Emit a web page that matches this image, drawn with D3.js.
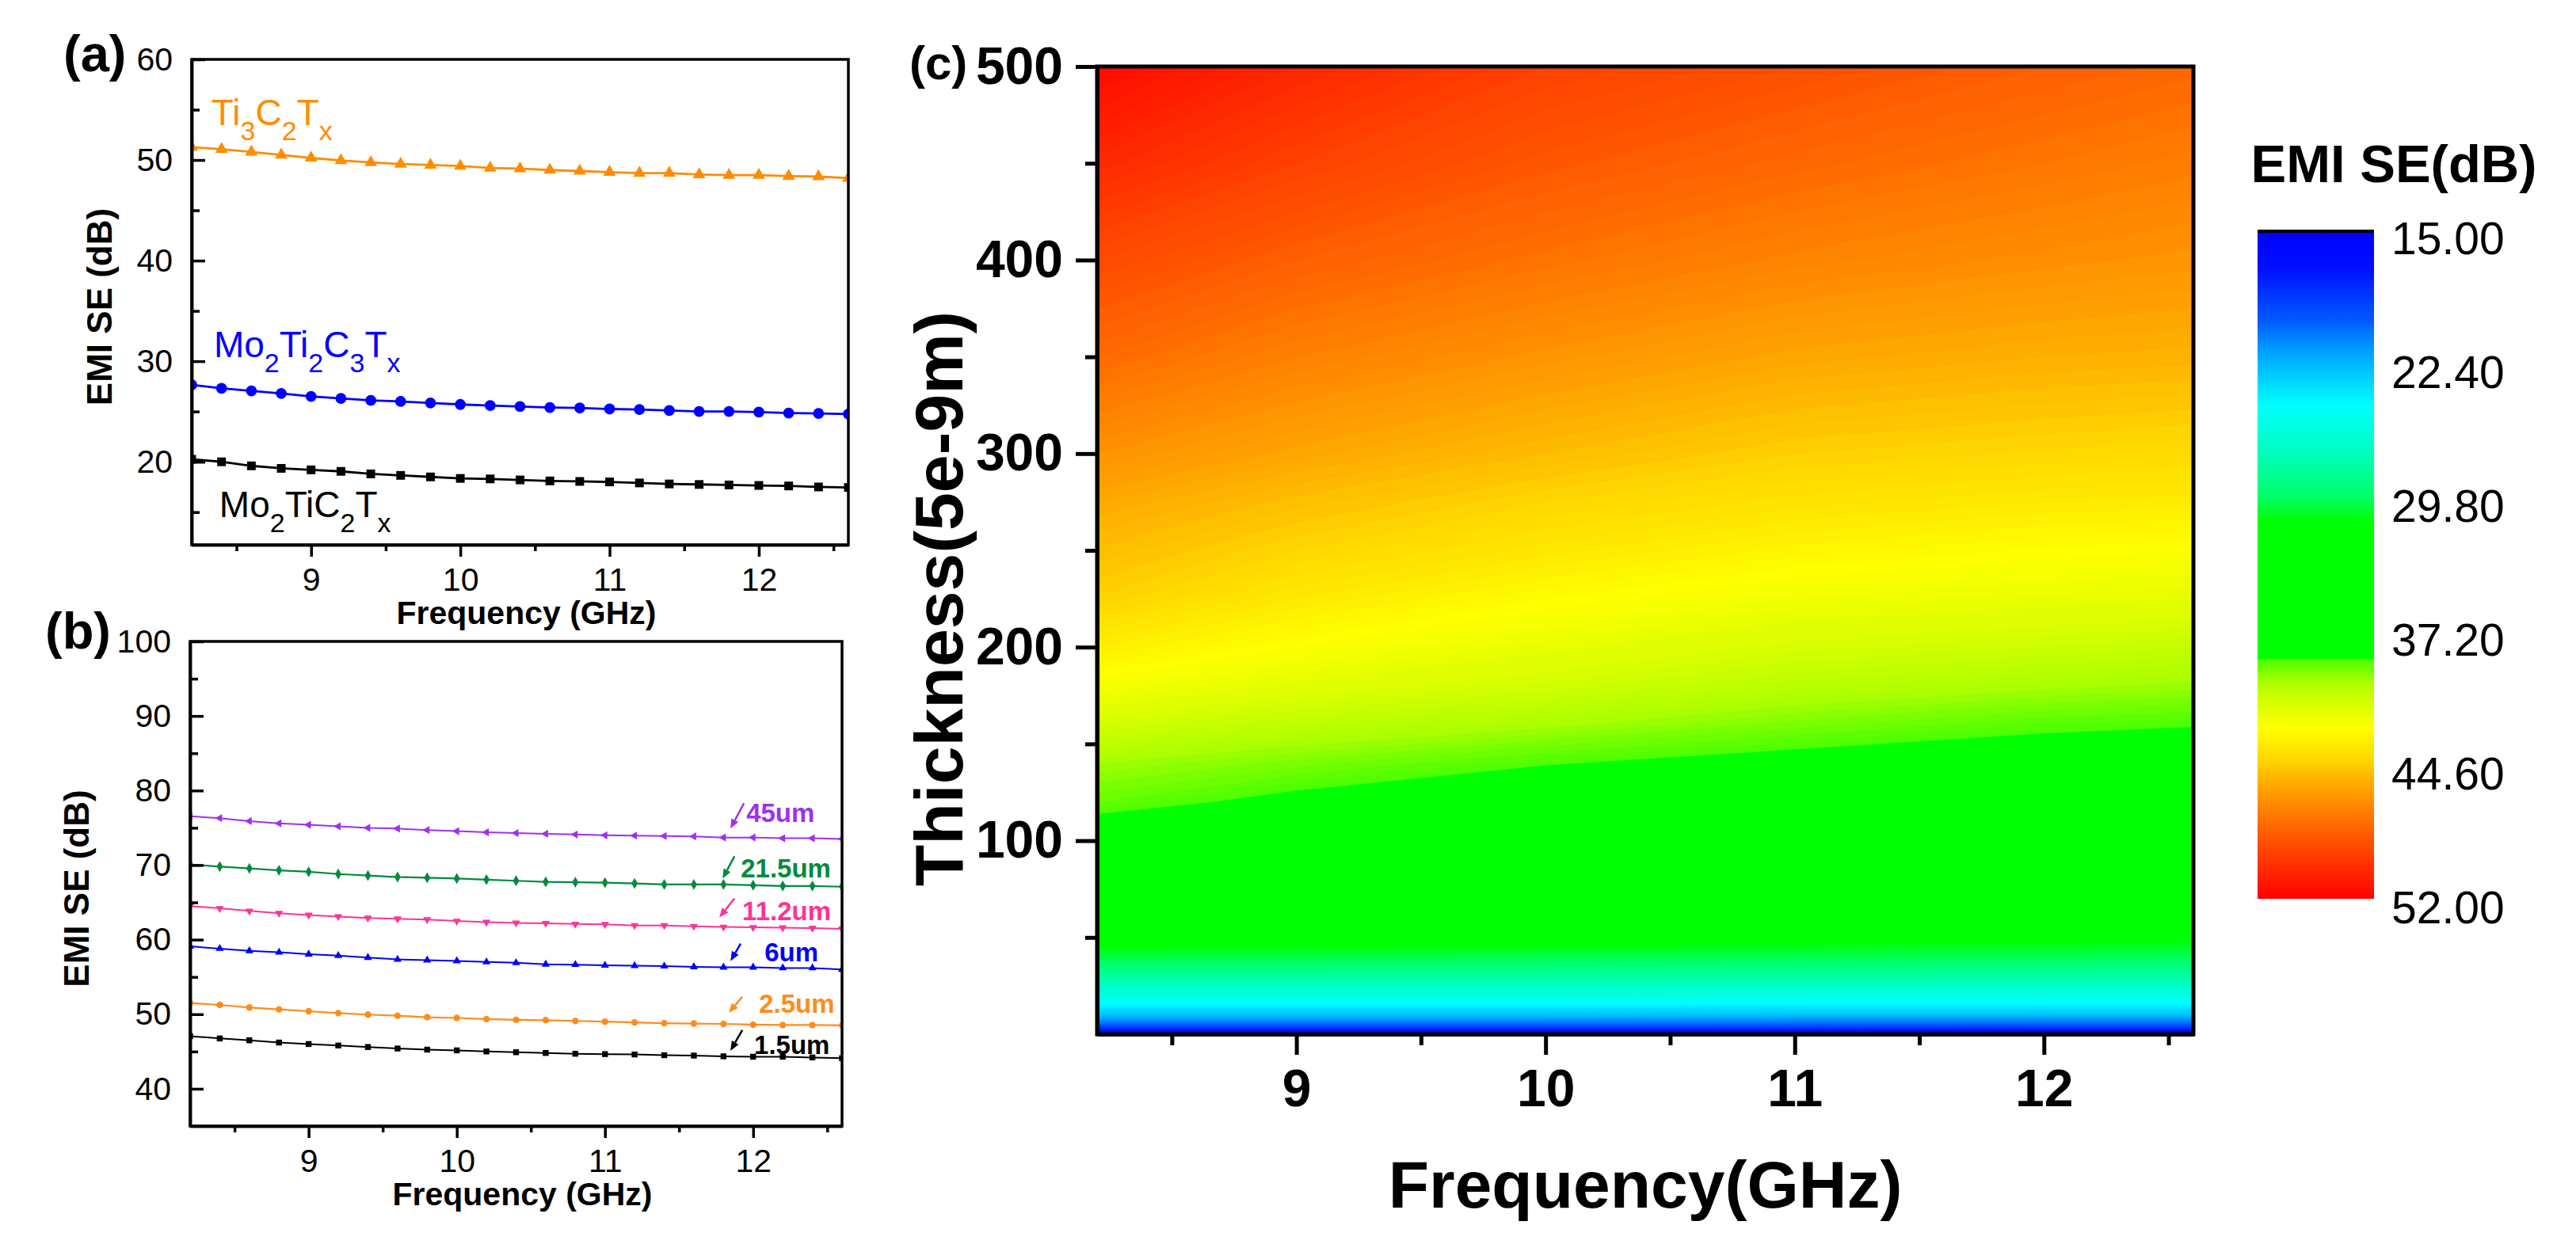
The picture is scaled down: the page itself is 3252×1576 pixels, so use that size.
<!DOCTYPE html>
<html>
<head>
<meta charset="utf-8">
<script src="https://cdn.jsdelivr.net/npm/d3@7"></script>
<style>
  body { margin: 0; background: #fff; }
  svg text { font-family: "Liberation Sans", Arial, sans-serif; }
</style>
</head>
<body>
<svg id="fig" width="3252" height="1576"></svg>
<script>
// ---- data ----
var freqs = [8.2, 8.4, 8.6, 8.8, 9.0, 9.2, 9.4, 9.6, 9.8, 10.0, 10.2, 10.4,
             10.6, 10.8, 11.0, 11.2, 11.4, 11.6, 11.8, 12.0, 12.2, 12.4, 12.6];

// panel (a)
var seTi3C2 = [51.27, 51.07, 50.8, 50.5, 50.2, 49.95, 49.75, 49.6, 49.5, 49.4, 49.2, 49.15,
               49.0, 48.9, 48.8, 48.7, 48.7, 48.55, 48.5, 48.5, 48.4, 48.35, 48.2];
var seMo2Ti2C3 = [27.65, 27.3, 27.05, 26.8, 26.5, 26.3, 26.1, 26.0, 25.85, 25.7, 25.6, 25.5,
                  25.4, 25.35, 25.25, 25.2, 25.1, 25.0, 25.0, 24.95, 24.85, 24.8, 24.75];
var seMo2TiC2 = [20.25, 20.0, 19.6, 19.35, 19.2, 19.05, 18.8, 18.65, 18.5, 18.35, 18.3, 18.2,
                 18.1, 18.05, 18.0, 17.9, 17.8, 17.75, 17.7, 17.65, 17.6, 17.5, 17.45];

// panel (b)
var se45um = [76.55, 76.3, 75.9, 75.6, 75.4, 75.2, 75.0, 74.9, 74.7, 74.55, 74.4, 74.3,
              74.2, 74.1, 74.0, 73.95, 73.9, 73.85, 73.7, 73.7, 73.6, 73.6, 73.5];
var se21p5um = [70.1, 69.8, 69.55, 69.3, 69.1, 68.8, 68.6, 68.4, 68.3, 68.2, 68.05, 67.9,
                67.75, 67.7, 67.65, 67.55, 67.4, 67.4, 67.4, 67.3, 67.2, 67.2, 67.1];
var se11p2um = [64.5, 64.2, 63.85, 63.55, 63.3, 63.1, 62.9, 62.8, 62.7, 62.5, 62.35, 62.25,
                62.2, 62.1, 62.05, 61.9, 61.9, 61.8, 61.7, 61.65, 61.6, 61.55, 61.45];
var se6um = [59.1, 58.8, 58.5, 58.3, 58.05, 57.85, 57.6, 57.35, 57.25, 57.15, 57.0, 56.9,
             56.7, 56.65, 56.55, 56.5, 56.45, 56.35, 56.3, 56.3, 56.2, 56.2, 56.0];
var se2p5um = [51.5, 51.25, 50.9, 50.65, 50.4, 50.15, 49.95, 49.8, 49.6, 49.5, 49.35, 49.25,
               49.2, 49.1, 49.0, 48.9, 48.8, 48.75, 48.7, 48.6, 48.55, 48.55, 48.5];
var se1p5um = [47.05, 46.75, 46.5, 46.2, 46.0, 45.8, 45.6, 45.4, 45.25, 45.15, 45.0, 44.9,
               44.8, 44.7, 44.65, 44.6, 44.5, 44.45, 44.35, 44.3, 44.3, 44.2, 44.1];

// panel (c): EMI SE map, rows = thickness, columns = frequency
var heatFreqs = [8.2, 9.0, 10.0, 11.0, 12.0, 12.6];
var heatThick = [0, 3, 6, 10, 15, 20, 30, 40, 50, 60, 80, 100, 120, 140, 160, 180,
                 200, 225, 250, 275, 300, 350, 400, 450, 500];
var heatSE = [
  [15.0, 15.0, 15.0, 15.0, 15.0, 15.0],
  [18.5, 18.5, 18.5, 18.5, 18.4, 18.4],
  [20.8, 20.8, 20.8, 20.7, 20.7, 20.7],
  [22.8, 22.8, 22.8, 22.7, 22.7, 22.7],
  [24.5, 24.5, 24.5, 24.4, 24.4, 24.4],
  [25.9, 25.9, 25.9, 25.8, 25.8, 25.8],
  [28.3, 28.3, 28.2, 28.2, 28.1, 28.1],
  [30.4, 30.4, 30.3, 30.2, 30.2, 30.1],
  [31.9, 31.8, 31.7, 31.6, 31.5, 31.4],
  [33.2, 33.0, 32.7, 32.5, 32.3, 32.2],
  [35.6, 35.2, 34.8, 34.4, 34.1, 34.0],
  [37.9, 37.3, 36.6, 36.1, 35.8, 35.6],
  [39.2, 38.5, 37.8, 37.4, 37.1, 36.9],
  [40.0, 39.5, 38.85, 38.4, 38.1, 37.9],
  [41.2, 40.6, 40.1, 39.5, 39.0, 38.85],
  [42.4, 41.7, 41.15, 40.5, 40.1, 39.9],
  [43.4, 42.6, 41.9, 41.3, 41.0, 40.8],
  [44.55, 43.6, 42.8, 42.2, 41.95, 41.8],
  [45.15, 44.4, 43.7, 43.1, 42.75, 42.6],
  [45.8, 45.1, 44.4, 43.9, 43.6, 43.5],
  [46.6, 45.9, 45.2, 44.6, 44.35, 44.2],
  [48.0, 47.2, 46.5, 45.9, 45.6, 45.5],
  [49.2, 48.4, 47.7, 47.1, 46.7, 46.5],
  [50.5, 49.6, 48.7, 48.1, 47.6, 47.3],
  [51.7, 50.6, 49.6, 49.0, 48.4, 48.1]
];

var cbarTicks = [15, 22.4, 29.8, 37.2, 44.6, 52];
var cmapValues = [15, 17.2, 20, 22, 24.7, 27.3, 29.8, 31.2, 38.7, 38.8, 39.4, 40.0, 41.2,
                  42.6, 44.3, 45.5, 46.7, 48.5, 52];
var cmapColors = ["#0000ff", "#0010ff", "#005aff", "#00aaff", "#00ffff", "#00ffbe", "#00ff64", "#00ff00",
                  "#00ff00", "#50ff00", "#78ff00", "#aaff00", "#d7ff00",
                  "#ffff00", "#ffd700", "#ffaf00", "#ff8c00", "#ff5a00", "#ff0000"];

var svg = d3.select("#fig");
var defs = svg.append("defs");
var fmt = d3.format("d");

function styleAxis(g, lw, fs, bold) {
    g.attr("font-size", null).attr("font-family", null);
    g.select(".domain").attr("stroke-width", lw);
    g.selectAll(".tick line").attr("stroke-width", lw);
    g.selectAll(".tick text")
        .style("font-size", fs + "px")
        .style("font-weight", bold ? "bold" : "normal")
        .attr("fill", "#000");
}

// line + symbol panels (a) and (b)
function linePanel(id, box, yDomain, yMajor, yMinor, series) {
    var x = d3.scaleLinear().domain([8.2, 12.6]).range([box.l, box.r]);
    var y = d3.scaleLinear().domain(yDomain).range([box.b, box.t]);
    var g = svg.append("g");

    defs.append("clipPath").attr("id", "clip-" + id)
        .append("rect")
        .attr("x", box.l).attr("y", box.t)
        .attr("width", box.r - box.l).attr("height", box.b - box.t);

    var plot = g.append("g").attr("clip-path", "url(#clip-" + id + ")");
    series.forEach(function(s) {
        var line = d3.line()
            .x(function(d, i) { return x(freqs[i]); })
            .y(function(d) { return y(d); });
        plot.append("path")
            .datum(s.values)
            .attr("fill", "none")
            .attr("stroke", s.color)
            .attr("stroke-width", s.lw)
            .attr("d", line);
        plot.selectAll(null)
            .data(s.values)
            .enter()
            .append("path")
            .attr("transform", function(d, i) {
                return "translate(" + x(freqs[i]) + "," + y(d) + ") rotate(" + (s.rot || 0) + ")";
            })
            .attr("d", d3.symbol().type(s.type).size(s.size))
            .attr("fill", s.color);
    });

    // minor ticks
    g.append("g")
        .attr("transform", "translate(" + box.l + ",0)")
        .call(d3.axisLeft(y).tickValues(yMinor).tickSizeInner(-10).tickSizeOuter(0).tickFormat(""))
        .call(styleAxis, 3.5, 40, false);
    g.append("g")
        .attr("transform", "translate(0," + box.b + ")")
        .call(d3.axisBottom(x).tickValues([8.5, 9.5, 10.5, 11.5, 12.5]).tickSizeInner(8).tickSizeOuter(0).tickFormat(""))
        .call(styleAxis, 3.5, 40, false);
    // major ticks
    g.append("g")
        .attr("transform", "translate(" + box.l + ",0)")
        .call(d3.axisLeft(y).tickValues(yMajor).tickSizeInner(-17).tickSizeOuter(0).tickPadding(24).tickFormat(fmt))
        .call(styleAxis, 3.5, 41, false);
    g.append("g")
        .attr("transform", "translate(0," + box.b + ")")
        .call(d3.axisBottom(x).tickValues([9, 10, 11, 12]).tickSizeInner(15).tickSizeOuter(0).tickPadding(14).tickFormat(fmt))
        .call(styleAxis, 3.5, 41, false);

    g.append("rect")
        .attr("x", box.l).attr("y", box.t)
        .attr("width", box.r - box.l).attr("height", box.b - box.t)
        .attr("fill", "none").attr("stroke", "#000").attr("stroke-width", 3.5);

    g.append("text")
        .attr("x", (box.l + box.r) / 2 + 8)
        .attr("y", box.b + 100)
        .attr("text-anchor", "middle")
        .style("font-size", "41px").style("font-weight", "bold")
        .text("Frequency (GHz)");

    g.append("text")
        .attr("transform", "translate(" + box.yt + "," + ((box.t + box.b) / 2 + 6) + ") rotate(-90)")
        .attr("text-anchor", "middle")
        .style("font-size", "44px").style("font-weight", "bold")
        .text("EMI SE (dB)");

    g.append("text")
        .attr("x", box.lx).attr("y", box.ly)
        .style("font-size", "65px").style("font-weight", "bold")
        .text("(" + id + ")");

    return {g: g, x: x, y: y};
}

// ---- panel (a) ----
var pa = linePanel("a", {l: 242, r: 1071, t: 75, b: 688, yt: 141, lx: 80, ly: 90}, [11.75, 60],
    [20, 30, 40, 50, 60], [15, 25, 35, 45, 55], [
    {values: seTi3C2, color: "#ff8c00", type: d3.symbolTriangle, size: 110, lw: 2.8},
    {values: seMo2Ti2C3, color: "#0000ff", type: d3.symbolCircle, size: 150, lw: 2.8},
    {values: seMo2TiC2, color: "#000000", type: d3.symbolSquare, size: 120, lw: 2.8}
]);

var labelsA = [
    {f: 8.332, v: 53.46, color: "#ff8c00", parts: [["Ti", 0], ["3", 1], ["C", 0], ["2", 1], ["T", 0], ["x", 1]]},
    {f: 8.348, v: 30.39, color: "#0000ff", parts: [["Mo", 0], ["2", 1], ["Ti", 0], ["2", 1], ["C", 0], ["3", 1], ["T", 0], ["x", 1]]},
    {f: 8.385, v: 14.49, color: "#000000", parts: [["Mo", 0], ["2", 1], ["TiC", 0], ["2", 1], ["T", 0], ["x", 1]]}
];
labelsA.forEach(function(l) {
    var t = pa.g.append("text")
        .attr("x", pa.x(l.f)).attr("y", pa.y(l.v))
        .attr("fill", l.color)
        .style("font-size", "46px");
    var prev = 0;
    l.parts.forEach(function(p) {
        var shift = p[1] ? 19 : 0;
        t.append("tspan")
            .attr("dy", shift - prev)
            .style("font-size", p[1] ? "34px" : "46px")
            .text(p[0]);
        prev = shift;
    });
});

// ---- panel (b) ----
var pb = linePanel("b", {l: 240, r: 1063, t: 810, b: 1422, yt: 112, lx: 57, ly: 819}, [35, 100],
    [40, 50, 60, 70, 80, 90, 100], [45, 55, 65, 75, 85, 95], [
    {values: se45um, color: "#a030f0", type: d3.symbolTriangle, size: 45, rot: -90, lw: 2},
    {values: se21p5um, color: "#008a3e", type: d3.symbolDiamond, size: 55, lw: 2.2},
    {values: se11p2um, color: "#ff3399", type: d3.symbolTriangle, size: 45, rot: 180, lw: 2},
    {values: se6um, color: "#0000ff", type: d3.symbolTriangle, size: 45, lw: 2},
    {values: se2p5um, color: "#ff8c1a", type: d3.symbolCircle, size: 55, lw: 2.2},
    {values: se1p5um, color: "#000000", type: d3.symbolSquare, size: 55, lw: 2}
]);

var labelsB = [
    {text: "45um", color: "#a030f0", f: 11.954, v: 75.74, a0: [11.938, 78.3], a1: [11.847, 74.9]},
    {text: "21.5um", color: "#008a3e", f: 11.917, v: 68.3, a0: [11.874, 71.17], a1: [11.794, 68.2]},
    {text: "11.2um", color: "#ff3399", f: 11.927, v: 62.66, a0: [11.874, 65.53], a1: [11.772, 62.98]},
    {text: "6um", color: "#0000ff", f: 12.077, v: 57.13, a0: [11.916, 59.47], a1: [11.847, 57.13]},
    {text: "2.5um", color: "#ff8c1a", f: 12.04, v: 50.2, a0: [11.927, 52.34], a1: [11.836, 50.21]},
    {text: "1.5um", color: "#000000", f: 12.007, v: 44.68, a0: [11.927, 47.87], a1: [11.847, 45.1]}
];
labelsB.forEach(function(l) {
    pb.g.append("text")
        .attr("x", pb.x(l.f)).attr("y", pb.y(l.v))
        .attr("fill", l.color)
        .style("font-size", "33px").style("font-weight", "bold")
        .text(l.text);
    var x0 = pb.x(l.a0[0]), y0 = pb.y(l.a0[1]);
    var x1 = pb.x(l.a1[0]), y1 = pb.y(l.a1[1]);
    var ang = Math.atan2(y1 - y0, x1 - x0);
    var hl = 12, hw = 5;
    var bx = x1 - hl * Math.cos(ang), by = y1 - hl * Math.sin(ang);
    pb.g.append("line")
        .attr("x1", x0).attr("y1", y0).attr("x2", bx).attr("y2", by)
        .attr("stroke", l.color).attr("stroke-width", 2.5);
    pb.g.append("path")
        .attr("d", "M" + x1 + "," + y1 +
            "L" + (bx + hw * Math.sin(ang)) + "," + (by - hw * Math.cos(ang)) +
            "L" + (bx - hw * Math.sin(ang)) + "," + (by + hw * Math.cos(ang)) + "Z")
        .attr("fill", l.color);
});

// ---- panel (c) ----
var boxC = {l: 1385, r: 2769, t: 84, b: 1306};
var xc = d3.scaleLinear().domain([8.2, 12.6]).range([boxC.l, boxC.r]);
var yc = d3.scaleLinear().domain([0, 500]).range([boxC.b, boxC.t]);
var color = d3.scaleLinear().domain(cmapValues).range(cmapColors).clamp(true);

var gc = svg.append("g");
defs.append("clipPath").attr("id", "clip-c")
    .append("rect")
    .attr("x", boxC.l).attr("y", boxC.t)
    .attr("width", boxC.r - boxC.l).attr("height", boxC.b - boxC.t);

var nF = heatFreqs.length, nT = heatThick.length;
var grid = [];
heatSE.forEach(function(row) { row.forEach(function(v) { grid.push(v); }); });
var thresholds = d3.range(15, 52.01, 0.2);
var contours = d3.contours().size([nF, nT]).thresholds(thresholds)(grid);

// grid index -> data units (the grid is not evenly spaced)
var fIdx = d3.scaleLinear().domain(d3.range(nF)).range(heatFreqs).clamp(true);
var tIdx = d3.scaleLinear().domain(d3.range(nT)).range(heatThick).clamp(true);
var proj = d3.geoTransform({
    point: function(px, py) {
        this.stream.point(xc(fIdx(px - 0.5)), yc(tIdx(py - 0.5)));
    }
});
var geo = d3.geoPath(proj);

var heat = gc.append("g").attr("clip-path", "url(#clip-c)");
heat.append("rect")
    .attr("x", boxC.l).attr("y", boxC.t)
    .attr("width", boxC.r - boxC.l).attr("height", boxC.b - boxC.t)
    .attr("fill", color(15));
heat.selectAll("path")
    .data(contours)
    .enter()
    .append("path")
    .attr("d", geo)
    .attr("fill", function(d) { return color(d.value); })
    .attr("stroke", function(d) { return color(d.value); })
    .attr("stroke-width", 0.6);

gc.append("g")
    .attr("transform", "translate(" + boxC.l + ",0)")
    .call(d3.axisLeft(yc).tickValues([50, 150, 250, 350, 450]).tickSizeInner(15).tickSizeOuter(0).tickFormat(""))
    .call(styleAxis, 5, 66, true);
gc.append("g")
    .attr("transform", "translate(0," + boxC.b + ")")
    .call(d3.axisBottom(xc).tickValues([8.5, 9.5, 10.5, 11.5, 12.5]).tickSizeInner(14).tickSizeOuter(0).tickFormat(""))
    .call(styleAxis, 5, 66, true);
gc.append("g")
    .attr("transform", "translate(" + boxC.l + ",0)")
    .call(d3.axisLeft(yc).tickValues([100, 200, 300, 400, 500]).tickSizeInner(27).tickSizeOuter(0).tickPadding(16).tickFormat(fmt))
    .call(styleAxis, 5, 66, true);
gc.append("g")
    .attr("transform", "translate(0," + boxC.b + ")")
    .call(d3.axisBottom(xc).tickValues([9, 10, 11, 12]).tickSizeInner(26).tickSizeOuter(0).tickPadding(18).tickFormat(fmt))
    .call(styleAxis, 5, 66, true);

gc.append("rect")
    .attr("x", boxC.l).attr("y", boxC.t)
    .attr("width", boxC.r - boxC.l).attr("height", boxC.b - boxC.t)
    .attr("fill", "none").attr("stroke", "#000").attr("stroke-width", 5);

gc.append("text")
    .attr("x", (boxC.l + boxC.r) / 2)
    .attr("y", 1525)
    .attr("text-anchor", "middle")
    .style("font-size", "84px").style("font-weight", "bold")
    .text("Frequency(GHz)");
gc.append("text")
    .attr("transform", "translate(1215,756) rotate(-90)")
    .attr("text-anchor", "middle")
    .style("font-size", "86px").style("font-weight", "bold")
    .text("Thickness(5e-9m)");
gc.append("text")
    .attr("x", 1148).attr("y", 100)
    .style("font-size", "60px").style("font-weight", "bold")
    .text("(c)");

// colour bar
var cb = {l: 2850, r: 2997, t: 290, b: 1135};
var yb = d3.scaleLinear().domain([15, 52]).range([cb.t, cb.b]);
var grad = defs.append("linearGradient")
    .attr("id", "cbar")
    .attr("x1", 0).attr("y1", 0).attr("x2", 0).attr("y2", 1);
grad.selectAll("stop")
    .data(d3.range(15, 52.01, 0.1))
    .enter()
    .append("stop")
    .attr("offset", function(d) { return (d - 15) / 37; })
    .attr("stop-color", function(d) { return color(d); });
gc.append("rect")
    .attr("x", cb.l).attr("y", cb.t)
    .attr("width", cb.r - cb.l).attr("height", cb.b - cb.t)
    .attr("fill", "url(#cbar)");
gc.append("line")
    .attr("x1", cb.l).attr("x2", cb.r)
    .attr("y1", cb.t + 2).attr("y2", cb.t + 2)
    .attr("stroke", "#000").attr("stroke-width", 4);
gc.selectAll(".cbl")
    .data(cbarTicks)
    .enter()
    .append("text")
    .attr("x", 3019)
    .attr("y", function(d) { return yb(d) + 11; })
    .attr("dy", "0.35em")
    .style("font-size", "57px")
    .text(function(d) { return d.toFixed(2); });
gc.append("text")
    .attr("x", 3022).attr("y", 230)
    .attr("text-anchor", "middle")
    .style("font-size", "67px").style("font-weight", "bold")
    .text("EMI SE(dB)");
</script>
</body>
</html>
